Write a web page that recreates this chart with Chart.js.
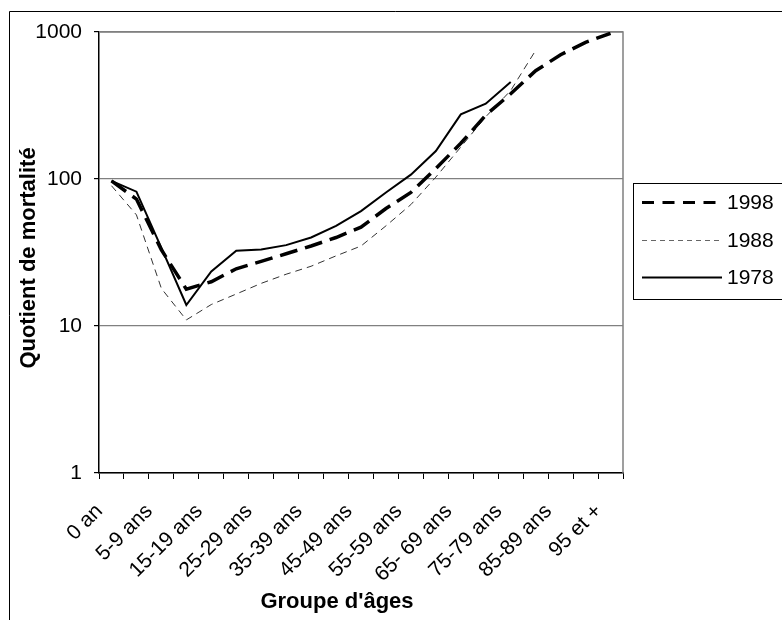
<!DOCTYPE html>
<html>
<head>
<meta charset="utf-8">
<script src="https://cdn.jsdelivr.net/npm/chart.js@4/dist/chart.umd.min.js"></script>
<style>
html,body{margin:0;padding:0;background:#fff;}
#wrap{width:782px;height:620px;position:relative;}
</style>
</head>
<body>
<div id="wrap"><canvas id="c" width="782" height="620"></canvas></div>
<script>
const categories = ['0 an','1-4 ans','5-9 ans','10-14 ans','15-19 ans','20-24 ans','25-29 ans','30-34 ans','35-39 ans','40-44 ans','45-49 ans','50-54 ans','55-59 ans','60-64 ans','65- 69 ans','70-74 ans','75-79 ans','80-84 ans','85-89 ans','90-94 ans','95 et +'];
const q1998 = [97, 73, 33, 17.8, 20, 24.5, 27.5, 31, 35, 40, 47, 63, 81, 118, 175, 272, 380, 545, 700, 850, 980];
const q1988 = [90, 57, 18, 11, 14, 16.5, 19.5, 22.5, 25.5, 30, 35, 48, 67, 103, 165, 265, 400, 750];
const q1978 = [97, 82, 34, 13.9, 23.5, 32.5, 33.2, 35.5, 40, 48, 60.5, 81, 107, 155, 275, 325, 457];
const yTicks = [1, 10, 100, 1000];
const seriesNames = ['1998', '1988', '1978'];
const yTitle = 'Quotient de mortalité';
const xTitle = "Groupe d'âges";

const FONT = "'Liberation Sans', Arial, sans-serif";

const decor = {
  id: 'decor',
  beforeDraw(chart) {
    const ctx = chart.ctx;
    ctx.save();
    ctx.fillStyle = '#fff';
    ctx.fillRect(0, 0, chart.width, chart.height);
    ctx.strokeStyle = '#000';
    ctx.lineWidth = 1;
    ctx.beginPath();
    ctx.moveTo(9.5, 620); ctx.lineTo(9.5, 11.5); ctx.lineTo(782, 11.5);
    ctx.stroke();
    ctx.restore();
  },
  beforeDatasetsDraw(chart) {
    const ctx = chart.ctx, a = chart.chartArea;
    ctx.save();
    ctx.strokeStyle = '#808080';
    ctx.lineWidth = 1.5;
    ctx.beginPath();
    ctx.moveTo(a.left, a.top); ctx.lineTo(a.right, a.top); ctx.lineTo(a.right, a.bottom);
    ctx.stroke();
    ctx.restore();
  },
  afterDraw(chart) {
    const ctx = chart.ctx;
    ctx.save();
    ctx.fillStyle = '#000';
    ctx.font = 'bold 22px ' + FONT;
    ctx.textAlign = 'center';
    ctx.textBaseline = 'alphabetic';
    ctx.fillText(xTitle, 337, 608);
    ctx.translate(35, 258);
    ctx.rotate(-Math.PI / 2);
    ctx.fillText(yTitle, 0, 0);
    ctx.restore();

    ctx.save();
    ctx.strokeStyle = '#000';
    ctx.lineWidth = 1;
    ctx.strokeRect(633.5, 183.5, 300, 116);
    const rows = [202.5, 240.5, 277.5];
    const legendDash = [[12, 8.5], [5, 4], []];
    chart.data.datasets.forEach((ds, i) => {
      const y = rows[i];
      ctx.save();
      ctx.strokeStyle = i === 1 ? '#666' : ds.borderColor;
      ctx.lineWidth = i === 0 ? 3 : (i === 1 ? 1 : 2);
      ctx.setLineDash(legendDash[i]);
      ctx.beginPath();
      ctx.moveTo(642, y); ctx.lineTo(722, y);
      ctx.stroke();
      ctx.restore();
      ctx.fillStyle = '#000';
      ctx.font = '21px ' + FONT;
      ctx.textAlign = 'left';
      ctx.textBaseline = 'middle';
      ctx.fillText(ds.label, 727, y + 1);
    });
    ctx.restore();
  }
};

new Chart(document.getElementById('c'), {
  type: 'line',
  data: {
    labels: categories,
    datasets: [
      { label: seriesNames[0], data: q1998, borderColor: '#000', borderWidth: 3.5, borderDash: [18, 8], pointRadius: 0, tension: 0, fill: false },
      { label: seriesNames[1], data: q1988, borderColor: '#333', borderWidth: 1, borderDash: [7, 5], pointRadius: 0, tension: 0, fill: false },
      { label: seriesNames[2], data: q1978, borderColor: '#000', borderWidth: 2, pointRadius: 0, tension: 0, fill: false }
    ]
  },
  options: {
    responsive: false,
    animation: false,
    devicePixelRatio: 1,
    layout: { padding: { left: 0, top: 32, right: 159, bottom: 0 } },
    plugins: { legend: { display: false }, tooltip: { enabled: false }, title: { display: false } },
    scales: {
      x: {
        type: 'category',
        offset: true,
        afterFit(scale) { scale.height = 147; },
        grid: { offset: true, drawOnChartArea: false, drawTicks: true, tickLength: 6, color: '#000', tickColor: '#000', lineWidth: 1 },
        border: { display: true, color: '#000', width: 1.5 },
        ticks: {
          autoSkip: false, minRotation: 45, maxRotation: 45, padding: 20, labelOffset: -12,
          color: '#000', font: { family: FONT, size: 21 },
          callback: (v, i) => (i % 2 === 0 ? categories[i] : '')
        }
      },
      y: {
        type: 'logarithmic',
        min: 1, max: 1000,
        afterFit(scale) { scale.width = 99; },
        afterBuildTicks(scale) { scale.ticks = yTicks.map(v => ({ value: v })); },
        grid: { color: '#808080', tickColor: '#000', tickLength: 5, lineWidth: 1.2 },
        border: { display: true, color: '#000', width: 1.5 },
        ticks: {
          padding: 12, color: '#000', font: { family: FONT, size: 21 },
          callback: (v) => String(v)
        }
      }
    }
  },
  plugins: [decor]
});
</script>
</body>
</html>
